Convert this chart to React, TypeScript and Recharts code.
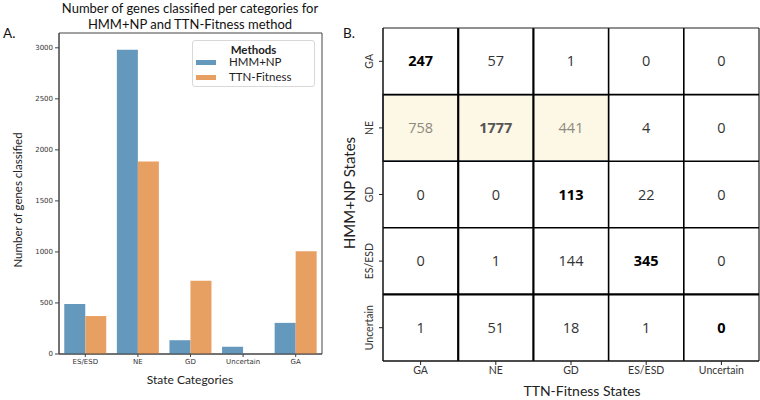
import React from 'react';
import {
  BarChart, Bar, XAxis, YAxis, Label,
  ScatterChart, Scatter, ReferenceLine, ReferenceArea,
} from 'recharts';

// ---- Panel A data ----
const stateCategories = ['ES/ESD', 'NE', 'GD', 'Uncertain', 'GA'];
const hmmCounts = [490, 2980, 135, 71, 305];
const ttnCounts = [372, 1886, 717, 0, 1006];
const countTicks = [0, 500, 1000, 1500, 2000, 2500, 3000];
const countMax = 3145;

// ---- Panel B data ----
const ttnStates = ['GA', 'NE', 'GD', 'ES/ESD', 'Uncertain'];
const hmmStates = ['GA', 'NE', 'GD', 'ES/ESD', 'Uncertain'];
const rowGA = [247, 57, 1, 0, 0];
const rowNE = [758, 1777, 441, 4, 0];
const rowGD = [0, 0, 113, 22, 0];
const rowES = [0, 1, 144, 345, 0];
const rowUnc = [1, 51, 18, 1, 0];
const matrixRows = [rowGA, rowNE, rowGD, rowES, rowUnc];
const highlightRow = 1;
const highlightCols = [0, 1, 2];
const cellTicks = [0.5, 1.5, 2.5, 3.5, 4.5];

const barData = stateCategories.map((c, i) => ({ cat: c, hmm: hmmCounts[i], ttn: ttnCounts[i] }));
const cellData = matrixRows.flatMap((row, r) =>
  row.map((v, c) => ({ x: c + 0.5, y: r + 0.5, v, r, c }))
);

const BLUE = '#6598bd';
const ORANGE = '#e8a062';
const LABEL_FONT = 'Lato, "Open Sans", sans-serif';
const TICK_FONT = '"DejaVu Sans", sans-serif';

const LegendBox = () => (
  <div style={{
    position: 'absolute', left: 192, top: 40,
    border: '1px solid #d8d8d8', borderRadius: 3, background: '#fff',
    width: 123, height: 47, boxSizing: 'border-box', fontFamily: LABEL_FONT,
    fontSize: 11.5, color: '#222',
  }}>
    <div style={{ position: 'absolute', top: 2, left: 0, width: '100%', textAlign: 'center', fontWeight: 'bold' }}>Methods</div>
    <div style={{ position: 'absolute', top: 19, left: 3, width: 20, height: 5, background: BLUE }} />
    <div style={{ position: 'absolute', top: 14, left: 36 }}>HMM+NP</div>
    <div style={{ position: 'absolute', top: 34, left: 3, width: 20, height: 5, background: ORANGE }} />
    <div style={{ position: 'absolute', top: 29, left: 36 }}>TTN-Fitness</div>
  </div>
);

const CellText = (props: any) => {
  const { cx, cy, payload } = props;
  const diag = payload.r === payload.c;
  const hl = payload.r === highlightRow && highlightCols.includes(payload.c);
  let fill = diag ? '#000' : '#333';
  if (hl) fill = diag ? '#555' : '#8d8a80';
  return (
    <text x={cx} y={cy} dy="0.35em" textAnchor="middle" fontFamily={'"Open Sans", sans-serif'}
      fontSize={14.5} fontWeight={diag ? 'bold' : 'normal'} fill={fill}>
      {payload.v}
    </text>
  );
};

const RotTick = (props: any) => {
  const { x, y, payload } = props;
  const lab = hmmStates[Math.floor(payload.value)];
  return (
    <text x={x - 8} y={y} textAnchor="middle" dy="0.35em" fontFamily={LABEL_FONT} fontSize={10.5}
      fill="#333" transform={`rotate(-90, ${x - 8}, ${y})`}>{lab}</text>
  );
};

export default function App() {
  return (
    <div style={{ position: 'fixed', left: 0, top: 0, width: 760, height: 400, background: '#fff' }}>
      <div style={{ position: 'absolute', left: 0, top: 0 }}>
        <BarChart width={380} height={400} data={barData}
          margin={{ top: 33, right: 58, bottom: 15, left: 19 }}
          barCategoryGap="10%" barGap={0}>
          <XAxis dataKey="cat" height={31} tickLine={{ stroke: '#444' }} tickSize={3}
            axisLine={{ stroke: '#444' }}
            tick={{ fontSize: 7, fontFamily: TICK_FONT, fill: '#333' }} interval={0}>
            <Label content={() => (
              <text x={190} y={384} textAnchor="middle" fontFamily={LABEL_FONT} fontSize={12} fill="#222">State Categories</text>
            )} />
          </XAxis>
          <YAxis width={40} domain={[0, countMax]} ticks={countTicks} tickSize={4}
            tickLine={{ stroke: '#444' }} axisLine={{ stroke: '#444' }}
            tick={{ fontSize: 7, fontFamily: TICK_FONT, fill: '#333' }}>
            <Label content={() => (
              <text transform="translate(22,200) rotate(-90)" textAnchor="middle" fontFamily={LABEL_FONT}
                fontSize={11.5} fill="#222">Number of genes classified</text>
            )} />
          </YAxis>
          <ReferenceArea y1={0} y2={countMax} fill="none" stroke="#444" strokeWidth={1} ifOverflow="visible" />
          <Bar dataKey="hmm" name="HMM+NP" fill={BLUE} isAnimationActive={false} />
          <Bar dataKey="ttn" name="TTN-Fitness" fill={ORANGE} isAnimationActive={false} />
        </BarChart>
      </div>
      <LegendBox />

      <div style={{ position: 'absolute', left: 340, top: 0 }}>
        <ScatterChart width={420} height={400} margin={{ top: 28, right: 1, bottom: 3, left: 15 }}>
          <ReferenceArea x1={0} x2={3} y1={1} y2={2} fill="#fdf7e6" fillOpacity={1}
            stroke="#3f5f80" strokeWidth={1.2} />
          <XAxis type="number" dataKey="x" domain={[0, 5]} ticks={cellTicks} height={36}
            tickFormatter={(v: number) => ttnStates[Math.floor(v)]} tickSize={4}
            tickLine={{ stroke: '#222' }} axisLine={{ stroke: '#111', strokeWidth: 1.5 }}
            tick={{ fontSize: 10.5, fontFamily: LABEL_FONT, fill: '#333' }}>
            <Label content={() => (
              <text x={242} y={396} textAnchor="middle" fontFamily={LABEL_FONT} fontSize={14} fill="#222">TTN-Fitness States</text>
            )} />
          </XAxis>
          <YAxis type="number" dataKey="y" domain={[0, 5]} reversed ticks={cellTicks} width={28}
            tick={<RotTick />} tickSize={4} tickLine={{ stroke: '#222' }}
            axisLine={{ stroke: '#111', strokeWidth: 1.5 }}>
            <Label content={() => (
              <text transform="translate(10,193) rotate(-90)" dy="0.35em" textAnchor="middle" fontFamily={LABEL_FONT}
                fontSize={15} fill="#222">HMM+NP States</text>
            )} />
          </YAxis>
          <ReferenceLine x={1} stroke="#000" strokeWidth={2.2} />
          <ReferenceLine x={2} stroke="#000" strokeWidth={2.2} />
          <ReferenceLine x={3} stroke="#000" strokeWidth={1.6} />
          <ReferenceLine x={4} stroke="#000" strokeWidth={1.6} />
          <ReferenceLine x={5} stroke="#222" strokeWidth={1.2} />
          <ReferenceLine y={0} stroke="#222" strokeWidth={1.2} />
          <ReferenceLine y={1} stroke="#000" strokeWidth={1.6} />
          <ReferenceLine y={2} stroke="#000" strokeWidth={1.6} />
          <ReferenceLine y={3} stroke="#000" strokeWidth={1.6} />
          <ReferenceLine y={4} stroke="#000" strokeWidth={2.2} />
          <Scatter data={cellData} shape={<CellText />} isAnimationActive={false} />
        </ScatterChart>
      </div>

      <div style={{ position: 'absolute', left: 40, top: 1, width: 300, textAlign: 'center',
        fontFamily: LABEL_FONT, fontSize: 13, lineHeight: '15.5px', color: '#111' }}>
        Number of genes classified per categories for<br />HMM+NP and TTN-Fitness method
      </div>
      <div style={{ position: 'absolute', left: 3, top: 25, fontFamily: LABEL_FONT, fontSize: 13.5, color: '#111' }}>A.</div>
      <div style={{ position: 'absolute', left: 343, top: 25, fontFamily: LABEL_FONT, fontSize: 13.5, color: '#111' }}>B.</div>
    </div>
  );
}
